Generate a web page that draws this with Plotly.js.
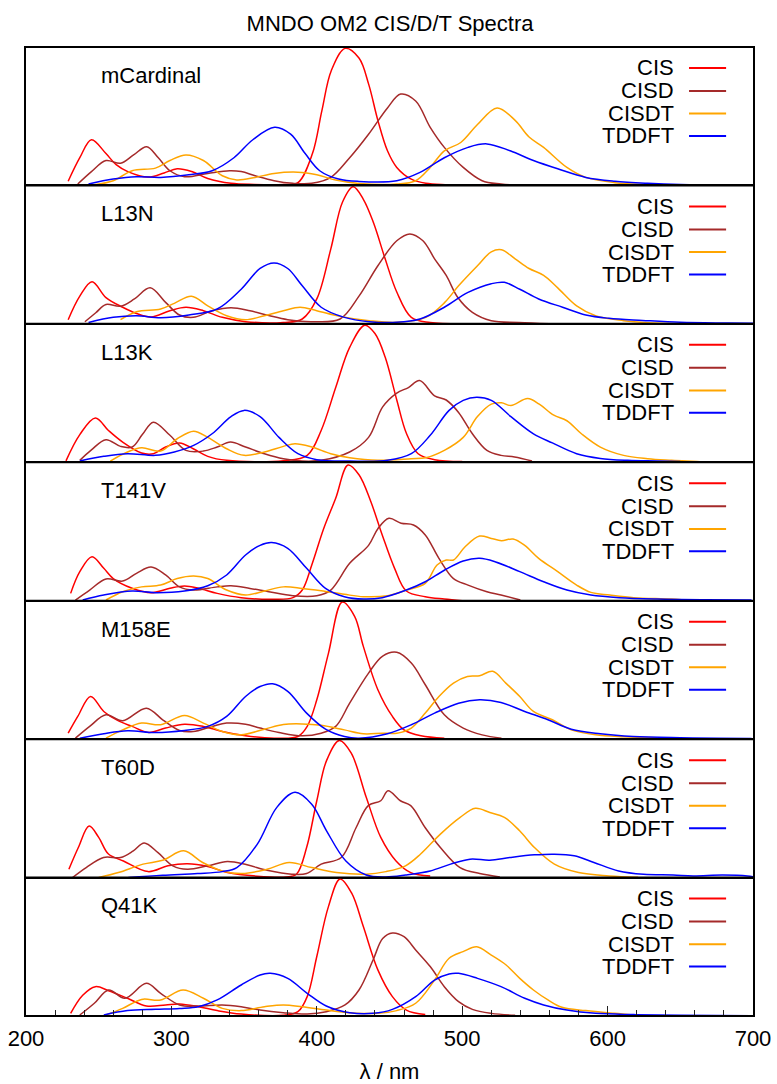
<!DOCTYPE html>
<html>
<head>
<meta charset="utf-8">
<script src="https://cdn.plot.ly/plotly-3.0.1.min.js"></script>
<style>html,body{margin:0;padding:0;background:#fff}</style>
</head>
<body>
<div id="chart" style="width:777px;height:1084px"></div>
<script>
// Absorption spectra (normalised intensity) of mCardinal variants, four methods each
const proteins = ['mCardinal', 'L13N', 'L13K', 'T141V', 'M158E', 'T60D', 'Q41K'];
const methods = ['CIS', 'CISD', 'CISDT', 'TDDFT'];
const methodColors = ['#ff0000', '#a52a2a', '#ffa500', '#0000ff'];

// ---- mCardinal ----
const mCardinal_CIS_nm = [229,237,245,255,262,270,284,295,304,314,325,341,357,377,387,397,403.5,410,419.5,429,435.7,442,448.6,455,465,475,490,500];
const mCardinal_CIS_int = [0.03,0.2,0.33,0.23,0.15,0.1,0.06,0.09,0.12,0.1,0.05,0.015,0.007,0.007,0.02,0.23,0.54,0.83,0.99,0.92,0.73,0.47,0.25,0.13,0.045,0.015,0.005,0];
const mCardinal_CISD_nm = [235.6,245,255,265,274,283,291,299,309,325,340,348,357.6,370.6,383.6,396.6,409.6,422.6,435.6,448.6,457.7,468,478,487.7,500.7,513.7,526.7,540];
const mCardinal_CISD_int = [0.01,0.1,0.18,0.16,0.22,0.28,0.2,0.106,0.063,0.087,0.106,0.1,0.07,0.034,0.015,0.015,0.058,0.2,0.37,0.56,0.66,0.61,0.42,0.275,0.13,0.034,0.01,0];
const mCardinal_CISDT_nm = [247,260,273,289,299,310,322,335,345,357.6,370.6,387,400,413,429,455,468,478,487.7,499,510.5,524,536.4,546,556,572,585,605,624,650];
const mCardinal_CISDT_int = [0.005,0.034,0.106,0.125,0.18,0.22,0.18,0.07,0.04,0.058,0.087,0.096,0.077,0.039,0.014,0.01,0.034,0.13,0.25,0.31,0.44,0.56,0.47,0.35,0.275,0.13,0.058,0.02,0.007,0];
const mCardinal_TDDFT_nm = [243,260,276,292.6,312,328,343,356,371,382,392,402,415,429,455,471,487.7,504,517,533,549,565.7,585,605,627.5,650,699];
const mCardinal_TDDFT_int = [0.01,0.046,0.063,0.058,0.077,0.106,0.2,0.33,0.42,0.37,0.23,0.106,0.046,0.029,0.034,0.094,0.2,0.275,0.3,0.25,0.18,0.12,0.058,0.03,0.015,0.007,0.005];

// ---- L13N ----
const L13N_CIS_nm = [229,237,245.4,255,266.5,276,286,299,310,322,335,351,377,390,400,409.6,417.7,425,432,439,447,455,465,478,500];
const L13N_CIS_int = [0.03,0.2,0.305,0.19,0.12,0.075,0.05,0.095,0.12,0.095,0.047,0.016,0.01,0.035,0.18,0.54,0.88,0.99,0.9,0.73,0.47,0.23,0.047,0.01,0];
const L13N_CISD_nm = [240.5,248,255,265,274.6,285.4,296,305.6,315,328,341,354,367,380,396.6,416,429,442,455,464,473,481,489,497,507,520,539,560];
const L13N_CISD_int = [0.015,0.08,0.14,0.127,0.18,0.26,0.155,0.064,0.047,0.095,0.117,0.095,0.06,0.03,0.016,0.035,0.2,0.42,0.6,0.65,0.6,0.47,0.35,0.19,0.083,0.023,0.01,0];
const L13N_CISDT_nm = [265,276,292.6,302,313.8,325,338,351,364,377,388.5,400,416,436,455,475,488,497.5,510.5,520,527,536.4,546,556,565.7,578.7,591.7,611,627.5,650];
const L13N_CISDT_int = [0.03,0.088,0.107,0.148,0.2,0.13,0.059,0.03,0.059,0.095,0.12,0.095,0.054,0.023,0.011,0.047,0.155,0.275,0.42,0.52,0.535,0.47,0.4,0.35,0.26,0.13,0.059,0.023,0.008,0];
const L13N_TDDFT_nm = [243,260,276,292.6,312,331.5,348,361,370.6,380,390,403,419,436,455,471,487.7,504,520,529,539.6,552.6,569,585,601,624,650,683,700];
const L13N_TDDFT_int = [0.01,0.047,0.059,0.044,0.064,0.107,0.25,0.4,0.44,0.4,0.275,0.12,0.047,0.016,0.011,0.035,0.12,0.227,0.29,0.3,0.25,0.18,0.12,0.064,0.04,0.025,0.011,0.006,0.004];

// ---- L13K ----
const L13K_CIS_nm = [227.5,237,247.7,256.7,266.5,279.5,287.6,296,305.6,315,325,338,377,393.4,403,413,422.6,433,440,447,455,461.6,469.7,481,500];
const L13K_CIS_int = [0.01,0.2,0.32,0.23,0.146,0.067,0.062,0.11,0.14,0.098,0.043,0.014,0.011,0.05,0.23,0.54,0.83,0.99,0.93,0.76,0.45,0.21,0.062,0.019,0.005];
const L13K_CISD_nm = [237,245,255,265,273,280,287.6,299,310,322,331.5,340.6,351,364,377,390,403,422.6,435.6,445.3,455,463,470.7,481,489,497.5,507,517,526.7,536,548];
const L13K_CISD_int = [0.014,0.09,0.163,0.115,0.11,0.2,0.29,0.195,0.086,0.081,0.11,0.146,0.11,0.062,0.026,0.009,0.014,0.074,0.18,0.4,0.5,0.54,0.59,0.48,0.45,0.36,0.206,0.086,0.05,0.038,0.009];
const L13K_CISDT_nm = [258,269.8,279.5,292.6,304,315.3,325,338,350,364,377,385,396.6,409.6,422.6,442,465,475,487.7,500.7,510.5,520,527,533.5,545,553,563,572,582,595,611,627.5,644,670];
const L13K_CISDT_int = [0.009,0.074,0.105,0.081,0.17,0.225,0.18,0.098,0.05,0.074,0.115,0.134,0.11,0.062,0.033,0.014,0.026,0.033,0.086,0.18,0.33,0.42,0.43,0.41,0.46,0.42,0.34,0.3,0.206,0.11,0.05,0.026,0.014,0];
const L13K_TDDFT_nm = [237,253.5,269.8,289,302,315.3,328,341,350,361,374,387,400,422.6,448.6,465,478,491,500.7,510,520,533.5,549,562,578.7,595,614,634,650];
const L13K_TDDFT_int = [0.009,0.043,0.062,0.05,0.074,0.122,0.206,0.33,0.375,0.33,0.18,0.062,0.019,0.009,0.014,0.062,0.195,0.375,0.447,0.47,0.447,0.33,0.206,0.14,0.062,0.028,0.014,0.009,0.005];

// ---- T141V ----
const T141V_CIS_nm = [230.7,237,245.4,253.5,260,273,286,299,309,318.6,331.5,348,370.6,383.6,390,396.6,404.7,413,421.5,429,437,445,453.5,461.6,474.6,487.7,500];
const T141V_CIS_int = [0.053,0.21,0.318,0.234,0.16,0.09,0.058,0.09,0.106,0.09,0.053,0.022,0.01,0.022,0.077,0.26,0.52,0.74,0.98,0.91,0.72,0.475,0.234,0.07,0.029,0.012,0];
const T141V_CISD_nm = [234,243.8,255,266.5,276,286,296,305.6,315,331.5,341,354,367,383.6,400,409.6,422.6,435.6,442,449.6,458,466.5,474.6,484,494,504,517,526.7,540];
const T141V_CISD_int = [0.005,0.077,0.157,0.142,0.198,0.243,0.186,0.1,0.077,0.1,0.108,0.089,0.065,0.036,0.036,0.077,0.27,0.4,0.52,0.595,0.56,0.547,0.475,0.306,0.16,0.113,0.065,0.041,0.005];
const T141V_CISDT_nm = [255,266.5,279.5,292.6,304,315.3,325,338,351,364,377,390,403,419,432,448.6,461.6,474.6,482.7,489,494,502,512,520,527,535,543,552.6,565.7,578.7,588.5,601.5,618,644,660];
const T141V_CISDT_int = [0.005,0.065,0.1,0.113,0.16,0.178,0.16,0.077,0.041,0.07,0.1,0.089,0.072,0.046,0.029,0.036,0.077,0.125,0.258,0.294,0.294,0.39,0.467,0.45,0.434,0.446,0.4,0.306,0.21,0.113,0.06,0.041,0.022,0.012,0];
const T141V_TDDFT_nm = [239,253.5,273,289,309,325,338,351,361,369,380,393,406,419,432,445,461.6,474.6,487.7,500.7,512,523,539.6,556,572,588.5,608,634,667,699];
const T141V_TDDFT_int = [0.005,0.041,0.07,0.058,0.07,0.108,0.186,0.33,0.4,0.42,0.378,0.234,0.089,0.029,0.012,0.022,0.077,0.137,0.22,0.287,0.306,0.28,0.21,0.137,0.077,0.041,0.022,0.012,0.007,0.005];

// ---- M158E ----
const M158E_CIS_nm = [229,235.6,244.4,253.5,263,273,284.4,296,309,322,335,351,370.6,387,393.4,400,408,417.5,426,432,442,452,460,471.6,487.7];
const M158E_CIS_int = [0.043,0.164,0.308,0.2,0.135,0.092,0.048,0.08,0.108,0.092,0.055,0.024,0.007,0.019,0.092,0.284,0.62,0.99,0.887,0.67,0.357,0.164,0.067,0.024,0.007];
const M158E_CISD_nm = [234,243.8,255,266.5,282.8,294,305.6,315,328,338,351,361,374,390,403,413,422.6,435.6,445.3,455,465,474.6,487.7,500.7,513.7,527];
const M158E_CISD_int = [0.007,0.092,0.176,0.133,0.224,0.14,0.063,0.055,0.092,0.116,0.108,0.08,0.048,0.024,0.043,0.092,0.26,0.477,0.6,0.627,0.55,0.393,0.176,0.08,0.031,0.007];
const M158E_CISDT_nm = [255,266.5,279.5,292.6,309,322,335,348,364,377,390,403,419,432,445,455,465,474.6,484,494,503.6,512,521,530,539.6,549,562,575,591.7,611,634];
const M158E_CISDT_int = [0.007,0.067,0.116,0.104,0.171,0.116,0.055,0.031,0.072,0.106,0.11,0.1,0.067,0.039,0.043,0.043,0.08,0.188,0.308,0.405,0.453,0.458,0.49,0.405,0.308,0.2,0.14,0.067,0.031,0.017,0.01];
const M158E_TDDFT_nm = [237,253.5,269.8,289,309,325,338,351,361,369.6,380,393,406,419,429,448.6,465,481,497.5,512,526.7,543,559,575,595,617.6,650,699];
const M158E_TDDFT_int = [0.007,0.039,0.06,0.048,0.063,0.092,0.164,0.308,0.38,0.4,0.345,0.188,0.072,0.019,0.007,0.039,0.104,0.188,0.26,0.284,0.265,0.2,0.14,0.072,0.039,0.019,0.01,0.005];

// ---- T60D ----
const T60D_CIS_nm = [229.5,236,243.4,250,256.7,267,284,297.6,311,325,338.5,359,379,386,393,400,406.7,415.5,423.6,434,444,454.5,464.6,478];
const T60D_CIS_int = [0.06,0.217,0.372,0.29,0.17,0.12,0.043,0.085,0.1,0.08,0.036,0.01,0.005,0.024,0.217,0.555,0.845,0.99,0.9,0.58,0.29,0.12,0.036,0.012];
const T60D_CISD_nm = [232,241.4,253.3,265,273.8,281.3,290.8,301,311,325,338.5,352,365.8,382.8,393,403,416.8,427,435.4,444,449,457.5,464.6,474.6,485,498.5,512,525.9];
const T60D_CISD_int = [0,0.072,0.145,0.145,0.193,0.25,0.18,0.085,0.06,0.085,0.116,0.092,0.053,0.024,0.029,0.097,0.145,0.36,0.52,0.555,0.628,0.555,0.52,0.36,0.217,0.072,0.029,0.005];
const T60D_CISDT_nm = [250,263.5,280.5,294,308.5,321.5,335,348.7,365.8,381,396.5,413.5,434,447.5,461,471.4,485,498.6,509,519,529,539.5,549.7,563.4,580,601,621];
const T60D_CISDT_int = [0,0.036,0.097,0.125,0.193,0.109,0.048,0.029,0.06,0.109,0.072,0.036,0.024,0.043,0.085,0.17,0.314,0.435,0.5,0.47,0.435,0.338,0.217,0.097,0.036,0.012,0.002];
const T60D_TDDFT_nm = [270.4,294,318,335,345,359,372.5,385,396.5,406.7,420,434,447.5,461,478,492,505.4,519,532.7,549.7,563.4,577,590.6,607.6,624.7,645,658.8,679,696.2,700];
const T60D_TDDFT_int = [0,0.017,0.029,0.043,0.072,0.24,0.507,0.616,0.53,0.338,0.12,0.019,0.005,0.019,0.048,0.097,0.133,0.126,0.145,0.164,0.169,0.157,0.109,0.048,0.024,0.019,0.012,0.019,0.012,0.005];

// ---- Q41K ----
const Q41K_CIS_nm = [230.7,239,247.7,256.8,269.8,282.8,296,305.6,318.6,331.5,348,377,387,393.4,400,408,416,424,432,442,452,461.6,474.6];
const Q41K_CIS_int = [0.019,0.15,0.212,0.183,0.128,0.072,0.08,0.087,0.067,0.039,0.014,0.005,0.031,0.14,0.43,0.79,0.99,0.887,0.646,0.333,0.14,0.043,0.01];
const Q41K_CISD_nm = [237,247,256.8,268,282.8,292.6,305.6,318.6,335,348,361,377,393.4,406.5,419.4,429,438.7,445.3,452,460,468,478,487.7,497.5,507,520,536.4];
const Q41K_CISD_int = [0.007,0.092,0.188,0.128,0.236,0.164,0.08,0.072,0.08,0.067,0.043,0.024,0.014,0.031,0.08,0.188,0.405,0.56,0.6,0.573,0.477,0.357,0.212,0.104,0.048,0.019,0.005];
const Q41K_CISDT_nm = [255,266.5,279.5,292.6,308,322,335,348,364,377,390,406.5,422.6,442,455,468,481,491,500.6,510,520,530,539.6,549,559,568.6,585,604.6,618];
const Q41K_CISDT_int = [0.007,0.055,0.12,0.116,0.188,0.128,0.055,0.039,0.067,0.08,0.067,0.043,0.024,0.019,0.039,0.092,0.26,0.417,0.465,0.5,0.44,0.37,0.272,0.188,0.116,0.063,0.039,0.019,0.007];
const Q41K_TDDFT_nm = [253.5,269.8,289,305.6,318.6,331.5,348,361,368,380,393.4,406.5,422.6,438.7,452,468,481,491,497.5,510.5,526.7,543,556,572,591.7,618,650,699];
const Q41K_TDDFT_int = [0.007,0.039,0.048,0.055,0.067,0.116,0.224,0.296,0.308,0.272,0.164,0.072,0.024,0.019,0.048,0.14,0.26,0.304,0.308,0.272,0.212,0.128,0.08,0.043,0.019,0.01,0.005,0.002];

// Lookup table: protein -> method -> [wavelengths, intensities]
const spectra = {
  mCardinal: {CIS: [mCardinal_CIS_nm, mCardinal_CIS_int], CISD: [mCardinal_CISD_nm, mCardinal_CISD_int], CISDT: [mCardinal_CISDT_nm, mCardinal_CISDT_int], TDDFT: [mCardinal_TDDFT_nm, mCardinal_TDDFT_int]},
  L13N: {CIS: [L13N_CIS_nm, L13N_CIS_int], CISD: [L13N_CISD_nm, L13N_CISD_int], CISDT: [L13N_CISDT_nm, L13N_CISDT_int], TDDFT: [L13N_TDDFT_nm, L13N_TDDFT_int]},
  L13K: {CIS: [L13K_CIS_nm, L13K_CIS_int], CISD: [L13K_CISD_nm, L13K_CISD_int], CISDT: [L13K_CISDT_nm, L13K_CISDT_int], TDDFT: [L13K_TDDFT_nm, L13K_TDDFT_int]},
  T141V: {CIS: [T141V_CIS_nm, T141V_CIS_int], CISD: [T141V_CISD_nm, T141V_CISD_int], CISDT: [T141V_CISDT_nm, T141V_CISDT_int], TDDFT: [T141V_TDDFT_nm, T141V_TDDFT_int]},
  M158E: {CIS: [M158E_CIS_nm, M158E_CIS_int], CISD: [M158E_CISD_nm, M158E_CISD_int], CISDT: [M158E_CISDT_nm, M158E_CISDT_int], TDDFT: [M158E_TDDFT_nm, M158E_TDDFT_int]},
  T60D: {CIS: [T60D_CIS_nm, T60D_CIS_int], CISD: [T60D_CISD_nm, T60D_CISD_int], CISDT: [T60D_CISDT_nm, T60D_CISDT_int], TDDFT: [T60D_TDDFT_nm, T60D_TDDFT_int]},
  Q41K: {CIS: [Q41K_CIS_nm, Q41K_CIS_int], CISD: [Q41K_CISD_nm, Q41K_CISD_int], CISDT: [Q41K_CISDT_nm, Q41K_CISDT_int], TDDFT: [Q41K_TDDFT_nm, Q41K_TDDFT_int]}
};

const FONT = 'Liberation Sans, Arial, Helvetica, sans-serif';
const nPanels = proteins.length;
const traces = [];
const annotations = [];
const shapes = [];
const layout = {
  width: 777, height: 1084,
  margin: {l: 26, r: 24, t: 47, b: 68},
  paper_bgcolor: '#ffffff', plot_bgcolor: '#ffffff',
  showlegend: false,
  font: {family: FONT, size: 22, color: '#000'},
  title: {text: 'MNDO OM2 CIS/D/T Spectra', x: 0.502, xref: 'container', xanchor: 'center',
          y: 1 - 23 / 1084, yref: 'container', yanchor: 'middle', font: {family: FONT, size: 22, color: '#000'}}
};

// Legend rows sit below the panel top (px)
const panelPx = (1084 - 47 - 68) / nPanels;
const legendRowPx = [21, 44, 66.6, 89];

proteins.forEach((name, k) => {
  const sfx = k === 0 ? '' : String(k + 1);
  const xa = 'x' + sfx, ya = 'y' + sfx;
  const isBottom = k === nPanels - 1;
  const top = 1 - k / nPanels, bottom = 1 - (k + 1) / nPanels;

  methods.forEach((m, j) => {
    const [nm, inten] = spectra[name][m];
    traces.push({
      type: 'scatter', mode: 'lines', name: m,
      x: nm, y: inten, xaxis: xa, yaxis: ya,
      line: {color: methodColors[j], width: 1.5, shape: 'spline', smoothing: 1},
      hoverinfo: 'x+y+name'
    });
    const yRow = 1 - legendRowPx[j] / panelPx;
    annotations.push({
      text: m, xref: 'paper', yref: ya + ' domain', x: 0.8935, y: yRow,
      xanchor: 'right', yanchor: 'middle', showarrow: false,
      font: {family: FONT, size: 22, color: '#000'}
    });
    shapes.push({
      type: 'line', xref: 'paper', yref: ya + ' domain',
      x0: 0.912, x1: 0.963, y0: yRow, y1: yRow,
      line: {color: methodColors[j], width: 2}
    });
  });

  annotations.push({
    text: name, xref: 'paper', yref: ya + ' domain', x: 0.101, y: 1 - 28.3 / panelPx,
    xanchor: 'left', yanchor: 'middle', showarrow: false,
    font: {family: FONT, size: 22, color: '#000'}
  });

  // Horizontal frame lines: thin per panel; boundaries reinforced below
  const xaxis = {
    domain: [0, 1], anchor: ya, range: [200, 700],
    showline: true, linecolor: '#000', linewidth: 1, mirror: true,
    showgrid: false, zeroline: false, fixedrange: true,
    ticks: '', showticklabels: false
  };
  if (k > 0) xaxis.matches = 'x';
  if (isBottom) {
    Object.assign(xaxis, {
      ticks: 'inside', ticklen: 10, tickwidth: 1, tickcolor: '#222',
      tick0: 200, dtick: 100, showticklabels: true, ticklabelstandoff: 3,
      tickfont: {family: FONT, size: 22, color: '#000'},
      minor: {dtick: 20, tick0: 200, ticks: 'inside', ticklen: 6, tickwidth: 1, tickcolor: '#222', showgrid: false},
      title: {text: 'λ / nm', standoff: 14, font: {family: FONT, size: 22, color: '#000'}}
    });
  }
  layout['xaxis' + sfx] = xaxis;
  layout['yaxis' + sfx] = {
    domain: [bottom, top], anchor: xa, range: [0, 1],
    showline: true, linecolor: '#000', linewidth: 2, mirror: true,
    showgrid: false, zeroline: false, fixedrange: true,
    ticks: '', showticklabels: false
  };
});

// 2px black edges at the outer frame and between stacked panels
for (let k = 0; k <= nPanels; k++) {
  const yb = 1 - k / nPanels;
  shapes.push({type: 'line', xref: 'paper', yref: 'paper', x0: 0, x1: 1, y0: yb, y1: yb,
               line: {color: '#000', width: 2}});
}

layout.annotations = annotations;
layout.shapes = shapes;

Plotly.newPlot('chart', traces, layout, {displayModeBar: false, staticPlot: true});
</script>
</body>
</html>
